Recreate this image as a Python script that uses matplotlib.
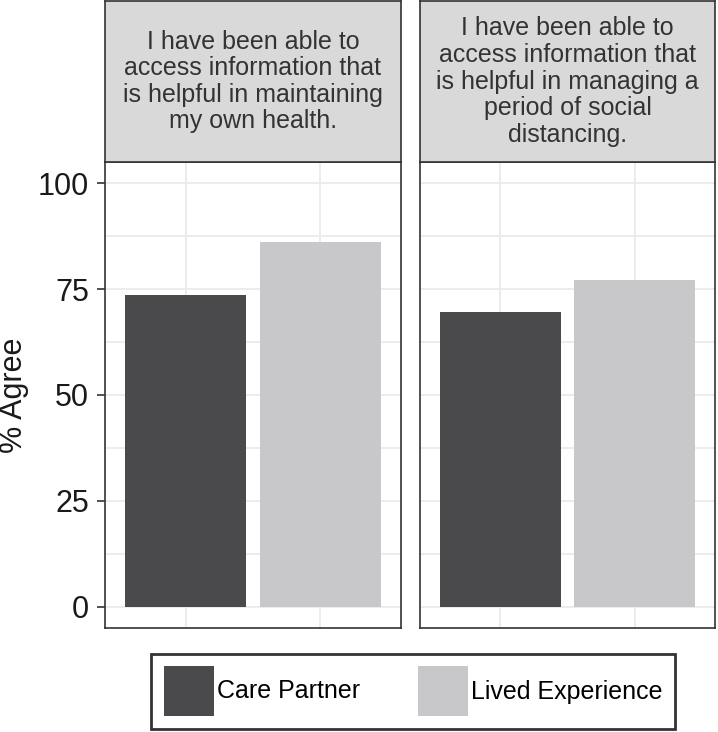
import matplotlib
matplotlib.use("Agg")
import matplotlib.pyplot as plt
from matplotlib.patches import Patch
import numpy as np

plt.rcParams['font.family'] = ['Liberation Sans', 'DejaVu Sans']

# data
groups = ["Care Partner", "Lived Experience"]
questions = [
    "I have been able to\naccess information that\nis helpful in maintaining\nmy own health.",
    "I have been able to\naccess information that\nis helpful in managing a\nperiod of social\ndistancing.",
]
care_partner = [73.6, 69.5]
lived_experience = [86.2, 77.1]
yticks = [0, 25, 50, 75, 100]

colors = ["#4a4a4c", "#c8c8ca"]
edge = "#333333"
W, H = 718, 732

fig = plt.figure(figsize=(W / 100, H / 100), dpi=100)

panels = [(105, 401), (420, 715)]
top, bottom = 162, 628
strip_top = 1

x = np.arange(1, len(groups) + 1)
for i, (x0, x1) in enumerate(panels):
    ax = fig.add_axes([x0 / W, (H - bottom) / H, (x1 - x0) / W, (bottom - top) / H])
    vals = [care_partner[i], lived_experience[i]]
    ax.bar(x, vals, width=0.9, color=colors, zorder=2)
    ax.set_xlim(0.4, 2.6)
    ax.set_ylim(-5, 105)
    ax.set_xticks(x)
    ax.set_xticklabels([])
    ax.tick_params(axis='x', length=0)
    ax.set_yticks(yticks)
    ax.set_yticks([12.5, 37.5, 62.5, 87.5], minor=True)
    ax.grid(True, which='both', color='#ebebeb', lw=1.3, zorder=0)
    ax.set_axisbelow(True)
    for s in ax.spines.values():
        s.set_color(edge)
        s.set_linewidth(1.2)
    ax.tick_params(axis='y', which='minor', length=0)
    if i == 0:
        ax.tick_params(axis='y', which='major', length=5.5, width=1.2, color=edge,
                       labelsize=22, pad=6, labelcolor='#1a1a1a')
    else:
        ax.tick_params(axis='y', which='major', length=0, labelleft=False)

    # facet strip
    sax = fig.add_axes([x0 / W, (H - top) / H, (x1 - x0) / W, (top - strip_top) / H])
    sax.set_facecolor('#d9d9d9')
    sax.set_xticks([])
    sax.set_yticks([])
    for s in sax.spines.values():
        s.set_color(edge)
        s.set_linewidth(1.2)
    sax.text(0.5, 0.5, questions[i], ha='center', va='center', fontsize=18,
             color='#333333', linespacing=1.14, transform=sax.transAxes)

fig.text(14 / W, 1 - 395 / H, "% Agree", rotation=90, ha='center', va='center',
         fontsize=22, color='#1a1a1a')

handles = [Patch(facecolor=c, edgecolor='none') for c in colors]
leg = fig.legend(handles, groups, loc='center', bbox_to_anchor=(413 / W, 1 - 691 / H),
                 ncol=2, fontsize=18, frameon=True, fancybox=False, edgecolor='black',
                 handlelength=2.0, handleheight=2.7, handletextpad=0.12,
                 columnspacing=2.3, borderpad=0.5)
leg.get_frame().set_linewidth(2)

fig.savefig("out.png", dpi=100)
